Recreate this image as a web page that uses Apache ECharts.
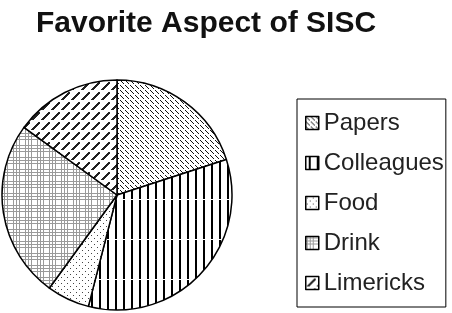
<!DOCTYPE html>
<html>
<head>
<meta charset="utf-8">
<script src="https://cdn.jsdelivr.net/npm/echarts@6/dist/echarts.min.js"></script>
<style>
  html, body { margin: 0; padding: 0; background: #fff; }
  #pie-chart { width: 452px; height: 313px; }
</style>
</head>
<body>
<div id="pie-chart"></div>
<script>
const titleText = 'Favorite Aspect of SISC';
const aspects = ['Papers', 'Colleagues', 'Food', 'Drink', 'Limericks'];
const shares = [20, 34, 6, 25, 15];

// small tiles for the black & white hatching
function makeTile(w, h, draw) {
  const c = document.createElement('canvas');
  c.width = w;
  c.height = h;
  const ctx = c.getContext('2d');
  ctx.fillStyle = '#fff';
  ctx.fillRect(0, 0, w, h);
  draw(ctx);
  return c;
}

const tiles = {
  Papers: makeTile(5, 5, ctx => {
    ctx.fillStyle = '#111';
    for (let i = 0; i < 4; i++) ctx.fillRect(i, i, 1, 1);
  }),
  Colleagues: makeTile(8, 40, ctx => {
    ctx.fillStyle = '#000';
    ctx.fillRect(3, 0, 2, 39);
  }),
  Food: makeTile(6, 6, ctx => {
    ctx.fillStyle = '#444';
    ctx.fillRect(1, 1, 1, 1);
    ctx.fillRect(4, 4, 1, 1);
  }),
  Drink: makeTile(12, 12, ctx => {
    ctx.fillStyle = '#9a9a9a';
    [1, 4, 7].forEach(p => {
      ctx.fillRect(p, 0, 1, 12);
      ctx.fillRect(0, p, 12, 1);
    });
  }),
  Limericks: makeTile(10, 10, ctx => {
    ctx.fillStyle = '#222';
    for (let i = 0; i < 8; i++) ctx.fillRect(i + 1, 9 - i, 3, 1);
  })
};

const myChart = echarts.init(document.getElementById('pie-chart'));

const option = {
  animation: false,
  backgroundColor: '#fff',
  title: {
    text: titleText,
    left: 36,
    top: 9,
    padding: 0,
    textStyle: {
      fontFamily: 'Liberation Sans',
      fontSize: 30,
      fontWeight: 'bold',
      color: '#111'
    }
  },
  legend: {
    orient: 'vertical',
    left: 297,
    top: 99,
    padding: [12, 2, 12, 8],
    borderColor: '#000',
    borderWidth: 1,
    itemWidth: 13,
    itemHeight: 13,
    itemGap: 16,
    icon: 'rect',
    itemStyle: {
      borderColor: '#000',
      borderWidth: 1.5
    },
    textStyle: {
      fontFamily: 'Liberation Sans',
      fontSize: 24,
      color: '#222'
    },
    data: aspects
  },
  series: [
    {
      name: titleText,
      type: 'pie',
      center: [117, 195],
      radius: 115,
      startAngle: 90,
      clockwise: true,
      label: { show: false },
      labelLine: { show: false },
      emphasis: { disabled: true },
      itemStyle: {
        borderColor: '#000',
        borderWidth: 1.5
      },
      data: aspects.map((name, i) => ({
        name: name,
        value: shares[i],
        itemStyle: { color: { image: tiles[name], repeat: 'repeat' } }
      }))
    }
  ]
};

myChart.setOption(option);
</script>
</body>
</html>
